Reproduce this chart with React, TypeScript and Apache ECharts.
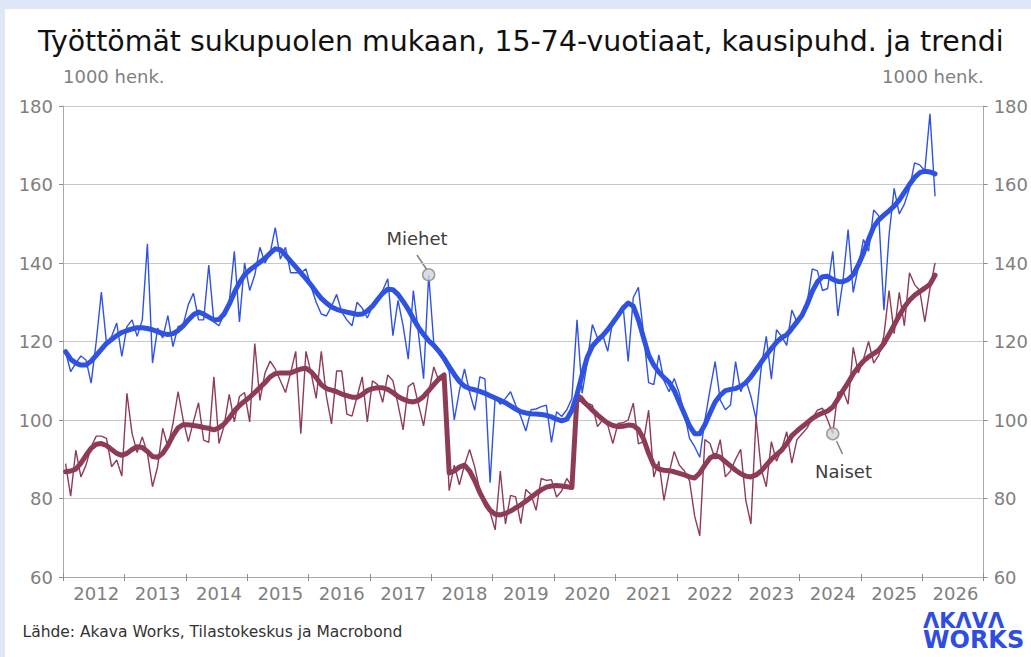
import React, { useEffect, useRef } from "react";
import * as echarts from "echarts";

// ---- Categories (monthly, Jan 2012 – Dec 2026) ----
const years = [2012, 2013, 2014, 2015, 2016, 2017, 2018, 2019, 2020, 2021, 2022, 2023, 2024, 2025, 2026];
const monthNums = ["01", "02", "03", "04", "05", "06", "07", "08", "09", "10", "11", "12"];
const months: string[] = years.flatMap((y) => monthNums.map((m) => `${y}-${m}`));

// ---- Series values (1000 persons), Jan 2012 – Mar 2026 ----
const menSA = [
  117.4, 112.3, 114.5, 116.3, 115.3, 109.4, 120.0, 132.6, 119.6, 121.3, 124.7, 116.2,
  123.8, 125.5, 121.3, 125.5, 144.9, 114.5, 123.4, 120.9, 126.6, 118.7, 123.8, 124.3,
  129.4, 132.3, 125.5, 125.5, 139.5, 125.0, 124.0, 127.0, 130.0, 143.0, 125.0, 140.0,
  133.0, 137.0, 144.0, 140.0, 142.5, 149.0, 141.0, 144.0, 137.5, 137.5, 137.5, 138.5,
  134.0, 130.0, 127.0, 126.5, 129.0, 132.0, 127.5, 125.5, 124.0, 130.0, 128.5, 126.0,
  129.0, 131.0, 133.0, 136.0, 121.5, 130.5, 124.0, 115.5, 133.0, 122.0, 110.5, 137.0,
  119.5, 117.0, 115.0, 112.5, 100.0, 107.5, 113.0, 107.0, 102.5, 111.0, 110.5, 84.0,
  106.0, 104.0, 105.5, 107.2, 103.8, 100.9, 97.2, 102.6, 102.8, 103.4, 103.8, 94.3,
  102.1, 100.9, 102.6, 105.5, 125.5, 106.8, 114.8, 124.3, 120.9, 121.7, 117.5, 125.5,
  126.4, 129.1, 114.9, 131.2, 133.8, 122.0, 109.5, 109.0, 116.6, 110.0, 107.2, 110.6,
  106.8, 101.7, 95.3, 93.2, 90.5, 100.0, 107.7, 114.9, 105.1, 102.6, 103.8, 114.9,
  107.2, 110.2, 106.0, 100.2, 113.2, 121.3, 110.4, 123.0, 121.3, 119.0, 128.0, 125.0,
  126.5, 130.0, 138.5, 138.0, 133.0, 133.5, 143.0, 126.5, 135.5, 148.5, 132.5, 139.0,
  146.0, 143.0, 153.5, 152.0, 128.0, 147.0, 159.0, 152.5, 155.0, 159.0, 165.5, 165.0,
  163.5, 178.0, 157.0,
];

const menTrend = [
  117.4, 115.5, 114.5, 114.0, 114.0, 115.0, 116.5, 118.0, 119.5, 120.5, 121.5, 122.3,
  122.8, 123.2, 123.5, 123.5, 123.3, 123.0, 122.5, 122.0, 121.8, 122.0, 122.8, 124.0,
  125.5, 126.8, 127.5, 127.0, 126.2, 125.5, 125.6, 127.0, 129.5, 132.5, 135.0, 137.0,
  138.2, 139.2, 140.2, 141.2, 142.5, 143.6, 143.4, 142.0, 140.5, 139.0, 137.5, 136.0,
  134.4, 132.6, 131.0, 129.8, 128.8, 128.2, 127.8, 127.5, 127.2, 126.9, 127.0, 127.8,
  129.0, 130.7, 132.3, 133.3, 133.2, 132.0, 130.2, 128.2, 125.8, 123.6, 121.8, 120.2,
  119.0, 117.5, 115.7, 113.6, 111.6, 109.8, 108.6, 108.0, 107.7, 107.3, 106.8, 106.2,
  105.6, 105.0, 104.4, 103.6, 102.8, 102.1, 101.8, 101.6, 101.5, 101.4, 101.2, 100.8,
  100.2, 99.8, 100.2, 102.5, 106.5, 111.5, 116.0, 118.8, 120.3, 121.5, 123.0, 124.8,
  126.6, 128.5, 129.8, 129.0, 125.5, 121.0, 116.5, 114.0, 112.2, 110.8, 109.6, 107.5,
  104.5, 101.5, 98.5, 96.5, 96.5, 98.8, 101.8, 104.6, 106.3, 107.5, 107.8, 108.0,
  108.6, 109.5, 111.0, 112.8, 114.7, 116.5, 118.2, 119.8, 121.0, 121.7, 123.3, 125.0,
  126.7, 129.5, 132.8, 135.2, 136.5, 136.6, 135.8, 135.3, 135.2, 135.8, 137.0, 139.5,
  142.5, 146.0, 149.2, 151.0, 152.2, 153.3, 154.5, 156.0, 158.0, 160.0, 161.8, 163.0,
  163.4, 163.2, 162.7,
];

const womenSA = [
  88.9, 80.6, 92.3, 85.5, 88.5, 93.2, 95.9, 95.9, 95.3, 88.1, 89.8, 85.7,
  106.8, 96.6, 91.7, 95.7, 91.5, 83.0, 88.1, 97.9, 93.2, 99.1, 107.2, 100.0,
  94.5, 99.6, 104.4, 94.9, 94.3, 111.0, 94.0, 98.5, 106.5, 99.5, 106.0, 107.0,
  99.5, 119.5, 105.0, 112.0, 115.0, 113.0, 110.0, 107.0, 112.0, 117.5, 96.5, 117.5,
  112.0, 105.5, 117.5, 106.0, 99.0, 112.5, 112.5, 101.5, 101.0, 106.0, 111.0, 99.5,
  110.0, 109.0, 104.5, 111.5, 110.0, 104.0, 97.5, 108.5, 109.5, 104.0, 98.5, 107.0,
  113.5, 110.0, 110.5, 82.0, 88.5, 83.5, 88.5, 92.5, 88.0, 82.0, 78.0, 76.5,
  72.0, 87.0, 73.5, 80.8, 80.4, 73.6, 82.3, 81.0, 77.0, 85.1, 84.6, 84.8,
  80.4, 81.9, 85.1, 83.0, 106.8, 106.0, 104.3, 103.8, 98.3, 100.0, 98.7, 94.0,
  99.1, 99.3, 100.0, 104.3, 93.9, 94.5, 102.5, 85.5, 89.5, 79.5, 86.5, 92.0,
  88.5, 87.0, 84.5, 75.5, 70.5, 95.0, 94.0, 90.0, 95.0, 85.5, 87.0, 90.0,
  92.5, 79.5, 73.5, 100.5, 87.5, 83.0, 94.5, 89.5, 92.5, 97.0, 89.0, 95.0,
  96.5, 98.0, 100.5, 102.5, 103.0, 100.0, 96.5, 107.0, 107.5, 104.0, 118.5, 112.0,
  115.5, 120.0, 114.5, 116.5, 121.5, 133.0, 122.0, 132.5, 124.0, 137.5, 134.5, 133.0,
  125.0, 133.5, 140.0,
];

const womenTrend = [
  86.8, 87.0, 87.5, 89.0, 91.0, 92.8, 93.8, 94.0, 93.5, 92.5, 91.5, 91.0,
  91.5, 92.5, 93.2, 93.0, 92.0, 90.7, 90.5, 91.5, 93.5, 96.0, 98.0, 98.8,
  98.8, 98.6, 98.4, 98.1, 97.9, 97.5, 98.0, 99.0, 100.5, 102.3, 103.7, 104.8,
  105.8, 107.0, 108.3, 109.5, 111.0, 111.8, 112.0, 112.0, 112.0, 112.5, 113.0, 113.2,
  112.3, 110.8, 109.0, 108.0, 107.6, 107.2, 106.6, 106.2, 105.8, 105.8, 106.5, 107.5,
  108.0, 108.2, 108.2, 107.8, 107.0, 106.0, 105.3, 104.8, 104.6, 105.0, 106.0, 107.5,
  109.0, 110.5, 111.5, 86.5, 87.0, 88.0, 88.5, 87.0, 84.5, 81.5, 79.0, 77.0,
  76.0, 75.8, 76.2, 76.8, 77.6, 78.4, 79.3, 80.3, 81.3, 82.2, 82.9, 83.2,
  83.3, 83.2, 83.0, 82.8, 106.0, 105.0, 103.8, 102.5, 101.3, 100.2, 99.2, 98.6,
  98.3, 98.4, 98.7, 98.6, 97.6, 95.2, 91.5, 88.5, 87.5, 87.2, 87.1, 86.8,
  86.4, 86.0, 85.5, 85.2, 86.5, 88.5, 90.3, 91.0, 90.5, 89.4, 88.3, 87.2,
  86.3, 85.7, 85.5, 86.0, 87.0, 88.5, 90.0, 91.2, 92.3, 94.0, 96.0, 97.2,
  98.3, 99.3, 100.4, 101.2, 101.8, 102.3, 103.3, 105.3, 107.5, 109.5, 111.8, 113.5,
  115.0, 116.1, 116.9, 117.8, 119.5, 121.8, 124.2, 126.6, 128.8, 130.5, 131.8, 132.7,
  133.6, 134.6, 136.9,
];

// Annotated points (series labels)
const annotations = [
  { label: "Miehet", month: "2017-12", value: 137.0 },
  { label: "Naiset", month: "2024-07", value: 96.5 },
];

const yTicks = { min: 60, max: 180, interval: 20 };

const BLUE = "#2f53e0";
const MAROON = "#8e3c56";
const GRAY_TXT = "#7f7f7f";
const LOGO = "#2f4de0";
const FONT = "DejaVu Sans";

export default function App() {
  const ref = useRef<HTMLDivElement>(null);

  useEffect(() => {
    const chart = echarts.init(ref.current!, null, { renderer: "svg" });
    const axisLineStyle = { color: "#a8a8a8", width: 1 };
    const yAxisBase = {
      type: "value",
      min: yTicks.min,
      max: yTicks.max,
      interval: yTicks.interval,
      name: "1000 henk.",
      nameLocation: "end",
      nameGap: 30,
      axisLine: { show: true, lineStyle: axisLineStyle },
      axisTick: { show: true, length: 4, lineStyle: { color: "#8c8c8c" } },
      axisLabel: { color: GRAY_TXT, fontSize: 18, fontFamily: FONT, margin: 10 },
    };
    chart.setOption({
      animation: false,
      backgroundColor: "transparent",
      textStyle: { fontFamily: FONT },
      grid: { left: 63, right: 46, top: 106, bottom: 80, containLabel: false },
      xAxis: [
        {
          type: "category",
          data: months,
          boundaryGap: true,
          axisLine: { show: true, lineStyle: axisLineStyle },
          axisTick: {
            show: true,
            length: 4,
            interval: (i: number) => i % 12 === 0,
            lineStyle: { color: "#8c8c8c" },
          },
          axisLabel: {
            interval: (i: number) => i % 12 === 6,
            formatter: (v: string) => v.slice(0, 4),
            color: GRAY_TXT,
            fontSize: 18,
            fontFamily: FONT,
            margin: 7,
          },
          splitLine: { show: false },
        },
        {
          type: "category",
          data: months,
          position: "bottom",
          boundaryGap: true,
          axisLine: { show: false },
          axisTick: {
            show: true,
            inside: true,
            length: 3,
            interval: (i: number) => i % 12 === 0,
            lineStyle: { color: "#8c8c8c" },
          },
          axisLabel: { show: false },
          splitLine: { show: false },
        },
      ],
      yAxis: [
        {
          ...yAxisBase,
          position: "left",
          nameTextStyle: { color: GRAY_TXT, fontSize: 18, fontFamily: FONT, align: "left", verticalAlign: "middle" },
          splitLine: { show: true, lineStyle: { color: "#c8c8c8", width: 1 } },
        },
        {
          ...yAxisBase,
          position: "right",
          nameTextStyle: { color: GRAY_TXT, fontSize: 18, fontFamily: FONT, align: "right", verticalAlign: "middle" },
          splitLine: { show: false },
        },
      ],
      series: [
        {
          name: "Miehet, kausitasoitettu",
          type: "line",
          data: menSA,
          symbol: "none",
          lineStyle: { color: BLUE, width: 1.4 },
          itemStyle: { color: BLUE },
          z: 2,
        },
        {
          name: "Naiset, kausitasoitettu",
          type: "line",
          data: womenSA,
          symbol: "none",
          lineStyle: { color: MAROON, width: 1.4 },
          itemStyle: { color: MAROON },
          z: 2,
        },
        {
          name: "Naiset, trendi",
          type: "line",
          data: womenTrend,
          symbol: "none",
          lineStyle: { color: MAROON, width: 5, join: "round", cap: "round" },
          itemStyle: { color: MAROON },
          z: 3,
        },
        {
          name: "Miehet, trendi",
          type: "line",
          data: menTrend,
          symbol: "none",
          lineStyle: { color: BLUE, width: 5, join: "round", cap: "round" },
          itemStyle: { color: BLUE },
          z: 4,
        },
        {
          name: "Merkinnät",
          type: "scatter",
          data: annotations.map((a) => [a.month, a.value]),
          symbol: "circle",
          symbolSize: 12,
          itemStyle: { color: "#d3d6dc", borderColor: "#888888", borderWidth: 1.5 },
          z: 10,
        },
      ],
      graphic: [
        {
          type: "text",
          x: 38,
          y: 41,
          style: {
            text: "Työttömät sukupuolen mukaan, 15-74-vuotiaat, kausipuhd. ja trendi",
            font: `28.4px '${FONT}'`,
            fill: "#111111",
            verticalAlign: "middle",
            align: "left",
          },
        },
        {
          type: "text",
          x: 386.5,
          y: 238.5,
          style: { text: annotations[0].label, font: `18px '${FONT}'`, fill: "#404040", verticalAlign: "middle" },
        },
        {
          type: "line",
          shape: { x1: 417, y1: 255, x2: 427, y2: 270 },
          style: { stroke: "#808080", lineWidth: 1.5 },
        },
        {
          type: "text",
          x: 815,
          y: 471.5,
          style: { text: annotations[1].label, font: `18px '${FONT}'`, fill: "#404040", verticalAlign: "middle" },
        },
        {
          type: "line",
          shape: { x1: 836.5, y1: 441, x2: 842.5, y2: 454 },
          style: { stroke: "#808080", lineWidth: 1.5 },
        },
        {
          type: "text",
          x: 22.5,
          y: 631.5,
          style: {
            text: "Lähde: Akava Works, Tilastokeskus ja Macrobond",
            font: `15.5px '${FONT}'`,
            fill: "#333333",
            verticalAlign: "middle",
          },
        },
        {
          type: "text",
          x: 923,
          y: 630.5,
          style: {
            text: "{a|ΛKΛVΛ}\n{b|WORKS}",
            fill: LOGO,
            verticalAlign: "middle",
            rich: {
              a: { fontFamily: FONT, fontWeight: "bold", fontSize: 21, lineHeight: 19, fill: LOGO },
              b: { fontFamily: FONT, fontWeight: "bold", fontSize: 24, lineHeight: 20, fill: LOGO },
            },
          },
        },
      ],
    });
    return () => chart.dispose();
  }, []);

  return (
    <div style={{ position: "fixed", left: 0, top: 0, width: 1031, height: 657, background: "#dde7f8" }}>
      <div style={{ position: "absolute", left: 5, top: 9, width: 1026, height: 648, background: "#ffffff" }} />
      <div ref={ref} style={{ position: "absolute", left: 0, top: 0, width: 1031, height: 657 }} />
    </div>
  );
}
